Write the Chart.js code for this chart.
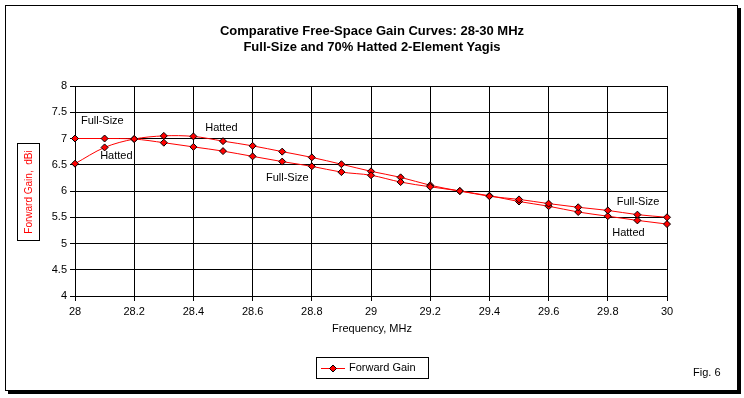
<!DOCTYPE html>
<html>
<head>
<meta charset="utf-8">
<script src="https://cdn.jsdelivr.net/npm/chart.js@4/dist/chart.umd.min.js"></script>
<style>
  html, body { margin: 0; padding: 0; background: #ffffff; }
  #wrap { width: 744px; height: 398px; position: relative; }
</style>
</head>
<body>
<div id="wrap"><canvas id="c" width="744" height="398"></canvas></div>
<script>
// ---- data ----
const frequencyMHz = [28.0, 28.1, 28.2, 28.3, 28.4, 28.5, 28.6, 28.7, 28.8, 28.9, 29.0,
                      29.1, 29.2, 29.3, 29.4, 29.5, 29.6, 29.7, 29.8, 29.9, 30.0];
const fullSizeGain = [7.00, 7.00, 6.99, 6.92, 6.84, 6.76, 6.66, 6.56, 6.47, 6.36, 6.30,
                      6.17, 6.08, 6.00, 5.90, 5.84, 5.76, 5.69, 5.63, 5.55, 5.50];
const hattedGain   = [6.52, 6.83, 6.99, 7.05, 7.04, 6.95, 6.86, 6.75, 6.64, 6.51, 6.375,
                      6.26, 6.11, 6.00, 5.91, 5.80, 5.71, 5.60, 5.52, 5.44, 5.37];
const seriesName = "Forward Gain";
const titleLines = ["Comparative Free-Space Gain Curves: 28-30 MHz",
                    "Full-Size and 70% Hatted 2-Element Yagis"];
const xAxisTitle = "Frequency, MHz";
const yAxisTitle = "Forward Gain,  dBi";
const figLabel = "Fig. 6";
const curveLabels = ["Full-Size", "Hatted", "Hatted", "Full-Size", "Full-Size", "Hatted"];
const curveLabelFreq = [28.02, 28.085, 28.44, 28.645, 29.83, 29.815];
const curveLabelGain = [7.33, 6.66, 7.2, 6.25, 5.8, 5.21];

const font = "'Liberation Sans', Arial, sans-serif";
const narrow = "'Liberation Sans Narrow', 'Arial Narrow', 'Liberation Sans', Arial, sans-serif";

function pts(vals) { return frequencyMHz.map((f, i) => ({ x: f, y: vals[i] })); }

const decorPlugin = {
  id: 'decor',
  beforeDraw(chart) {
    const ctx = chart.ctx;
    ctx.save();
    ctx.fillStyle = '#ffffff';
    ctx.fillRect(0, 0, 744, 398);
    // drop shadow
    ctx.fillStyle = '#000000';
    ctx.fillRect(8, 391, 733, 3);
    ctx.fillRect(738, 8, 3, 386);
    // frame
    ctx.strokeStyle = '#000000';
    ctx.lineWidth = 1;
    ctx.strokeRect(5.5, 5.5, 732, 385);
    ctx.restore();
  },
  afterDraw(chart) {
    const ctx = chart.ctx;
    const xs = chart.scales.x, ys = chart.scales.y;
    ctx.save();
    // title
    ctx.fillStyle = '#000000';
    ctx.textAlign = 'center';
    ctx.textBaseline = 'middle';
    ctx.font = "bold 13px " + narrow;
    ctx.fillText(titleLines[0], 372, 31);
    ctx.fillText(titleLines[1], 372, 47);
    // x axis title
    ctx.font = "11px " + font;
    ctx.fillText(xAxisTitle, 372, 329);
    // y axis title with box
    ctx.save();
    ctx.translate(29, 192);
    ctx.rotate(-Math.PI / 2);
    ctx.fillStyle = '#ff0000';
    ctx.font = "10px " + font;
    ctx.fillText(yAxisTitle, 0, 0);
    ctx.restore();
    ctx.strokeStyle = '#000000';
    ctx.lineWidth = 1;
    ctx.strokeRect(17.5, 143.5, 22, 97);
    // curve labels
    ctx.textAlign = 'left';
    ctx.fillStyle = '#000000';
    ctx.font = "11px " + font;
    curveLabels.forEach((t, i) => {
      ctx.fillText(t, xs.getPixelForValue(curveLabelFreq[i]), ys.getPixelForValue(curveLabelGain[i]));
    });
    // legend
    ctx.strokeRect(316.5, 357.5, 112, 21);
    ctx.strokeStyle = '#ff0000';
    ctx.beginPath();
    ctx.moveTo(321, 368.5); ctx.lineTo(345, 368.5); ctx.stroke();
    ctx.fillStyle = '#ff0000';
    ctx.strokeStyle = '#000000';
    ctx.beginPath();
    ctx.moveTo(333, 365); ctx.lineTo(336.5, 368.5); ctx.lineTo(333, 372); ctx.lineTo(329.5, 368.5); ctx.closePath();
    ctx.fill(); ctx.stroke();
    ctx.fillStyle = '#000000';
    ctx.fillText(seriesName, 349, 368);
    // fig label
    ctx.fillText(figLabel, 693, 373);
    ctx.restore();
  }
};

const dsStyle = {
  borderColor: '#ff0000',
  borderWidth: 1,
  backgroundColor: '#ff0000',
  pointStyle: 'rectRot',
  pointRadius: 3.5,
  pointBackgroundColor: '#ff0000',
  pointBorderColor: '#000000',
  pointBorderWidth: 1,
  tension: 0.33,
  fill: false,
  clip: false
};

new Chart(document.getElementById('c'), {
  type: 'line',
  data: {
    datasets: [
      Object.assign({ label: seriesName, data: pts(fullSizeGain) }, dsStyle),
      Object.assign({ label: seriesName, data: pts(hattedGain) }, dsStyle)
    ]
  },
  options: {
    responsive: false,
    animation: false,
    devicePixelRatio: 1,
    layout: { padding: { top: 86, right: 77, bottom: 0, left: 0 } },
    plugins: { legend: { display: false }, title: { display: false }, tooltip: { enabled: false } },
    scales: {
      x: {
        type: 'linear', min: 28, max: 30,
        afterFit(s) { s.height = 102; },
        ticks: {
          stepSize: 0.2, color: '#000000', padding: 4, maxRotation: 0,
          font: { family: font, size: 11 },
          callback: v => String(Math.round(v * 10) / 10)
        },
        grid: { color: '#000000', lineWidth: 1, tickLength: 5, tickColor: '#000000' },
        border: { color: '#000000', width: 1 }
      },
      y: {
        type: 'linear', min: 4, max: 8,
        afterFit(s) { s.width = 75; },
        ticks: {
          stepSize: 0.5, color: '#000000', padding: 3,
          font: { family: font, size: 11 },
          callback: v => String(Math.round(v * 10) / 10)
        },
        grid: { color: '#000000', lineWidth: 1, tickLength: 5, tickColor: '#000000' },
        border: { color: '#000000', width: 1 }
      }
    }
  },
  plugins: [decorPlugin]
});
</script>
</body>
</html>
